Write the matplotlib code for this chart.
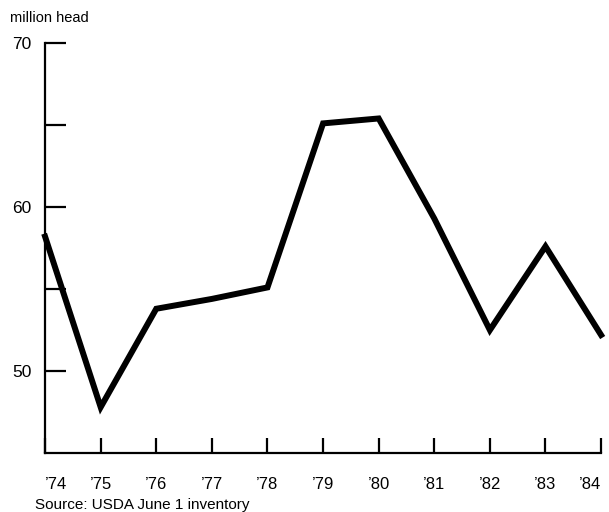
import numpy as np
import matplotlib.pyplot as plt

plt.rcParams['font.family'] = ['Liberation Sans', 'DejaVu Sans']

# hog inventory, June 1
years = [1974, 1975, 1976, 1977, 1978, 1979, 1980, 1981, 1982, 1983, 1984]
head = [58.2, 47.8, 53.8, 54.4, 55.1, 65.1, 65.4, 59.3, 52.5, 57.6, 52.2]
year_labels = ["\u201974", "\u201975", "\u201976", "\u201977", "\u201978", "\u201979",
               "\u201980", "\u201981", "\u201982", "\u201983", "\u201984"]

fig = plt.figure(figsize=(6.09, 5.12), dpi=100)
ax = fig.add_axes([0.074, 0.115, 0.913, 0.801])

ax.plot(years, head, color="black", lw=4.3, solid_joinstyle="miter", clip_on=False)

ax.set_xlim(1974, 1984)
ax.set_ylim(45, 70)
ax.set_xticks(years)
ax.set_xticklabels(year_labels)
ax.set_yticks([50, 60, 70])
ax.set_yticks([55, 65], minor=True)

for s in ["top", "right"]:
    ax.spines[s].set_visible(False)
for s in ["left", "bottom"]:
    ax.spines[s].set_linewidth(1.6)

ax.tick_params(axis="x", direction="in", length=11, width=1.6, labelsize=12, pad=17)
ax.tick_params(axis="y", which="both", direction="in", length=15, width=1.6, labelsize=12.5, pad=10)
ax.get_xticklabels()[0].set_horizontalalignment("left")
ax.get_xticklabels()[-1].set_horizontalalignment("right")

fig.text(0.016, 0.965, "million head", fontsize=10.5, va="center")
fig.text(0.057, 0.013, "Source: USDA June 1 inventory", fontsize=11, va="center")

fig.savefig("out.png", dpi=100)
